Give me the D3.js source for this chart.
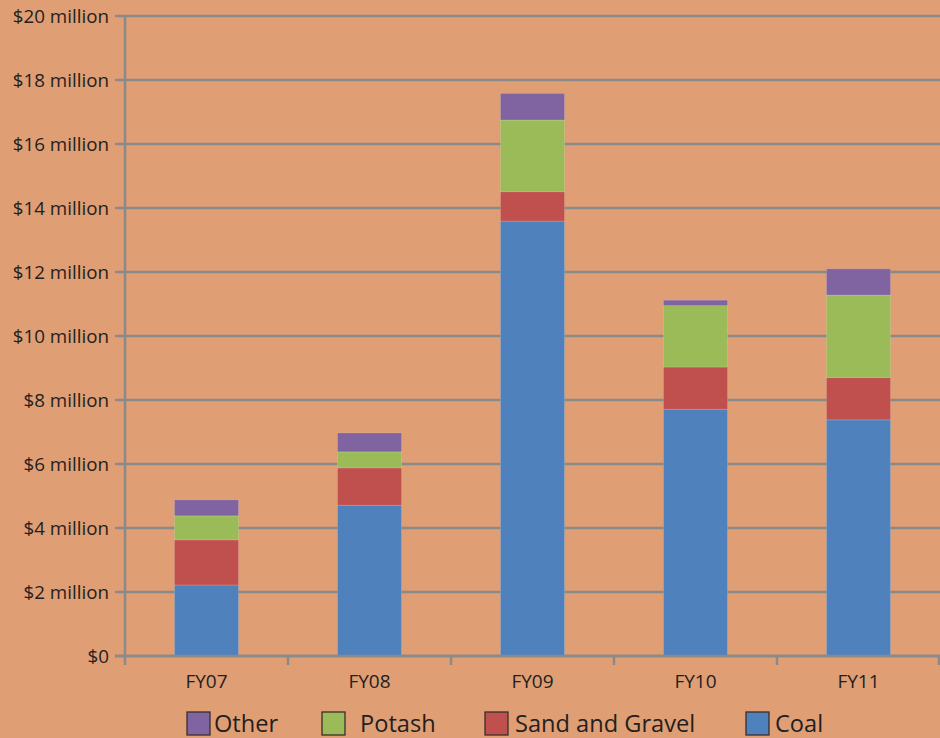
<!DOCTYPE html>
<html><head><meta charset="utf-8">
<script src="https://cdn.jsdelivr.net/npm/d3@7"></script>
<style>
html,body{margin:0;padding:0;background:#DF9E74;}
svg{display:block;}
text{font-family:"Open Sans","Noto Sans",sans-serif;fill:#231F20;}
</style></head>
<body>
<svg id="chart" width="940" height="738"></svg>
<script>
const categories = ["FY07","FY08","FY09","FY10","FY11"];
const seriesNames = ["Coal","Sand and Gravel","Potash","Other"];
const coal   = [2.22, 4.71, 13.59, 7.71, 7.38];
const sand   = [1.41, 1.17, 0.92, 1.32, 1.32];
const potash = [0.75, 0.50, 2.24, 1.92, 2.58];
const other  = [0.50, 0.59, 0.83, 0.17, 0.82];
const yTicks = [0,2,4,6,8,10,12,14,16,18,20];
const yTickLabels = ["$0","$2 million","$4 million","$6 million","$8 million","$10 million","$12 million","$14 million","$16 million","$18 million","$20 million"];
const legendOrder = ["Other","Potash","Sand and Gravel","Coal"];
const colors = {"Coal":"#4F81BD","Sand and Gravel":"#C0504D","Potash":"#9BBB59","Other":"#8064A2"};

(function(){
const rows = categories.map((c,i)=>({cat:c,"Coal":coal[i],"Sand and Gravel":sand[i],"Potash":potash[i],"Other":other[i]}));
const stacked = d3.stack().keys(seriesNames)(rows);

const svg = d3.select("#chart");
const pLeft = 125, pRight = 940, pTop = 16, pBottom = 656;
const x = d3.scaleBand().domain(categories).range([pLeft,pRight]).paddingInner(0.607).paddingOuter(0.3035);
const y = d3.scaleLinear().domain([0,20]).range([pBottom,pTop]);
const gridCol = "#8A8A8A";

svg.append("g").selectAll("line").data(yTicks).join("line")
  .attr("x1",115).attr("x2",pRight)
  .attr("y1",d=>y(d)).attr("y2",d=>y(d))
  .attr("stroke",gridCol).attr("stroke-width",2.5);

svg.append("g").selectAll("text").data(yTicks).join("text")
  .attr("x",109).attr("y",d=>y(d)).attr("dy","0.36em")
  .attr("text-anchor","end").attr("font-size",18.8)
  .text((d,i)=>yTickLabels[i]);

svg.append("g").selectAll("g").data(stacked).join("g")
  .attr("fill",d=>colors[d.key])
  .selectAll("rect").data(d=>d).join("rect")
  .attr("x",d=>x(d.data.cat)).attr("width",x.bandwidth())
  .attr("y",d=>y(d[1])).attr("height",d=>y(d[0])-y(d[1]))
  .attr("stroke","rgba(255,255,255,0.15)").attr("stroke-width",1);

svg.append("line").attr("x1",pLeft).attr("x2",pLeft).attr("y1",pTop).attr("y2",pBottom+9)
  .attr("stroke",gridCol).attr("stroke-width",2.5);
svg.append("line").attr("x1",115).attr("x2",pRight).attr("y1",pBottom).attr("y2",pBottom)
  .attr("stroke",gridCol).attr("stroke-width",2.5);
const bounds = categories.map(c=>x(c)-(x.step()-x.bandwidth())/2).concat([pRight-1]);
svg.append("g").selectAll("line").data(bounds.slice(1)).join("line")
  .attr("x1",d=>d).attr("x2",d=>d).attr("y1",pBottom).attr("y2",pBottom+9)
  .attr("stroke",gridCol).attr("stroke-width",2.5);
svg.append("g").selectAll("text").data(categories).join("text")
  .attr("x",d=>x(d)+x.bandwidth()/2).attr("y",688)
  .attr("text-anchor","middle").attr("font-size",19).text(d=>d);

const legendX = {"Other":187,"Potash":322,"Sand and Gravel":485,"Coal":746};
const legendTextX = {"Other":214,"Potash":360,"Sand and Gravel":515,"Coal":775};
const lg = svg.append("g").selectAll("g").data(legendOrder).join("g");
lg.append("rect").attr("x",d=>legendX[d]).attr("y",712).attr("width",23).attr("height",23)
  .attr("fill",d=>colors[d]).attr("stroke","#3a2e2a").attr("stroke-width",1.3);
lg.append("text").attr("x",d=>legendTextX[d]).attr("y",732).attr("font-size",23.6).text(d=>d);
})();
</script>
</body></html>
